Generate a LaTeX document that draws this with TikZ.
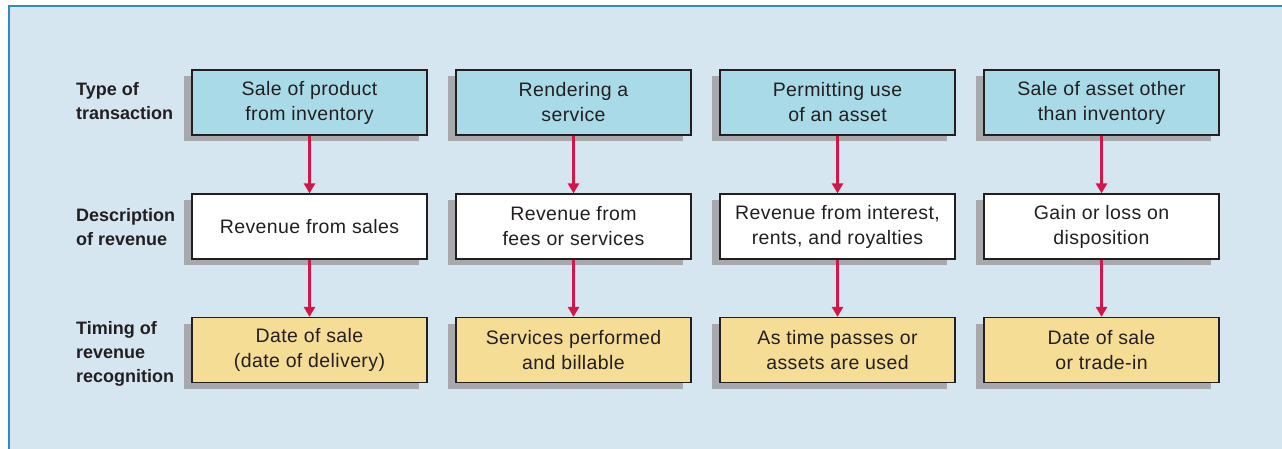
\documentclass[tikz,border=0pt]{standalone}
\usepackage{fontspec}
\setmainfont{Liberation Sans}
\newfontfamily\boxfont[LetterSpace=2]{Liberation Sans}
\usetikzlibrary{shadows,arrows.meta}
\definecolor{bgblue}{HTML}{D5E6F0}
\definecolor{frameblue}{HTML}{2E8BC0}
\definecolor{boxblue}{HTML}{A9DAE7}
\definecolor{boxyellow}{HTML}{F5DD96}
\definecolor{shadowgray}{HTML}{A7A9AC}
\definecolor{arrowred}{HTML}{D2164A}
\definecolor{txt}{HTML}{231F20}
\tikzset{
  rowbox/.style={draw=txt, line width=1.3pt, minimum width=235pt, minimum height=65pt,
    align=center, inner sep=0pt, text=txt,
    font=\boxfont\fontsize{19.5}{25}\selectfont,
    general shadow={shadow xshift=-8pt, shadow yshift=-6pt, fill=shadowgray}},
  typebox/.style={rowbox, fill=boxblue},
  descbox/.style={rowbox, fill=white},
  timebox/.style={rowbox, fill=boxyellow},
  rowlabel/.style={anchor=west, align=left, inner sep=0pt, text=txt,
    font=\fontsize{18}{24}\selectfont\bfseries},
  flow/.style={draw=arrowred, line width=2.6pt, -{Triangle[width=11pt,length=10pt]}}
}
\begin{document}
\begin{tikzpicture}[x=1pt,y=-1pt]
\useasboundingbox (0,0) rectangle (1282,449);
\fill[bgblue] (9,6) rectangle (1282,449);
\draw[frameblue, line width=2pt] (9,449) -- (9,6) -- (1282,6);

\node[rowlabel] (l1) at (76,101) {Type of\\transaction};
\node[rowlabel] (l2) at (76,227) {Description\\of revenue};
\node[rowlabel] (l3) at (76,354) {Timing of\\revenue\\recognition};

\node[typebox] (t1) at (309.5,102.5) {Sale of product\\from inventory};
\node[typebox] (t2) at (573.5,102.5) {Rendering a\\service};
\node[typebox] (t3) at (837.5,102.5) {Permitting use\\of an asset};
\node[typebox] (t4) at (1101.5,102.5) {Sale of asset other\\than inventory};

\node[descbox] (d1) at (309.5,226.5) {Revenue from sales};
\node[descbox] (d2) at (573.5,226.5) {Revenue from\\fees or services};
\node[descbox] (d3) at (837.5,226.5) {Revenue from interest,\\rents, and royalties};
\node[descbox] (d4) at (1101.5,226.5) {Gain or loss on\\disposition};

\node[timebox] (s1) at (309.5,350) {Date of sale\\(date of delivery)};
\node[timebox] (s2) at (573.5,350) {Services performed\\and billable};
\node[timebox] (s3) at (837.5,350) {As time passes or\\assets are used};
\node[timebox] (s4) at (1101.5,350) {Date of sale\\or trade-in};

\foreach \i in {1,2,3,4}{
  \draw[flow] (t\i.south) -- (d\i.north);
  \draw[flow] (d\i.south) -- (s\i.north);
}
\end{tikzpicture}
\end{document}
